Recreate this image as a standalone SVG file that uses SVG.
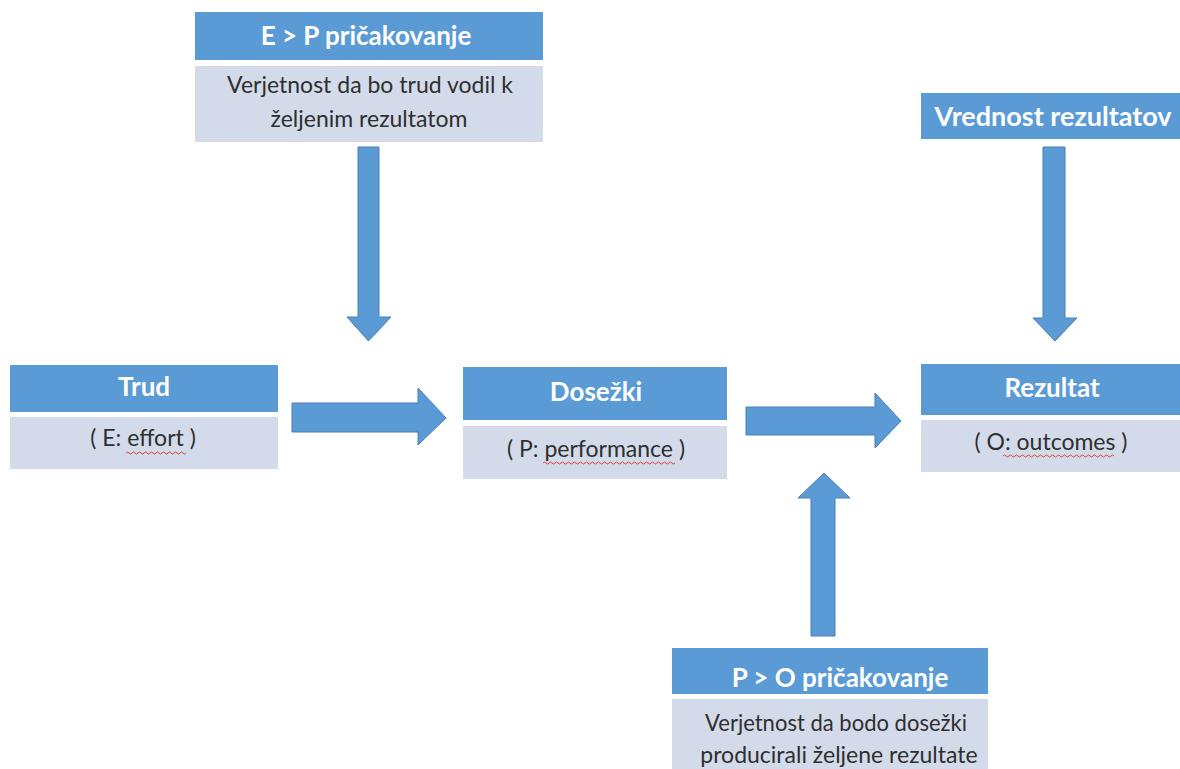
<svg xmlns="http://www.w3.org/2000/svg" width="1180" height="769" viewBox="0 0 1180 769">
  <style>
    .hd { fill: #5b9bd5; }
    .bd { fill: #d3dbea; }
    .ht { font-family: Lato, "Open Sans", sans-serif; font-weight: bold; font-size: 26px; fill: #ffffff; text-anchor: middle; }
    .bt { font-family: Lato, "Open Sans", sans-serif; font-size: 23px; fill: #2f2f2f; text-anchor: middle; }
    .arrow { fill: #5b9bd5; stroke: #4a7fb5; stroke-width: 1; }
    .spell { fill: none; stroke: #e0423a; stroke-width: 1; }
  </style>
  <rect width="1180" height="769" fill="#ffffff"/>

  <!-- connectors: block arrows -->
  <g id="connectors">
    <!-- E>P expectancy down into the effort→performance link -->
    <polygon class="arrow" points="358,147 379,147 379,317 391,317 368.5,341 347,317 358,317"/>
    <!-- effort to performance -->
    <polygon class="arrow" points="292,403 418,403 418,388 446,418 418,445 418,432 292,432"/>
    <!-- performance to outcomes -->
    <polygon class="arrow" points="746,407 875,407 875,393 901,421 875,448 875,435 746,435"/>
    <!-- P>O expectancy up -->
    <polygon class="arrow" points="811,636 835,636 835,498 850,498 824,473 798,498 811,498"/>
    <!-- value of outcomes down -->
    <polygon class="arrow" points="1043,147 1065,147 1065,318 1077,318 1055,341 1033,318 1043,318"/>
  </g>

  <g id="node-ep">
    <rect class="hd" x="195" y="12" width="348" height="48"/>
    <text class="ht" x="366" y="45">E &gt; P pričakovanje</text>
    <rect class="bd" x="195" y="66" width="348" height="76"/>
    <text class="bt" x="370" y="93">Verjetnost da bo trud vodil k</text>
    <text class="bt" x="369" y="127">željenim rezultatom</text>
  </g>

  <g id="node-trud">
    <rect class="hd" x="10" y="365" width="268" height="47"/>
    <text class="ht" x="144" y="396">Trud</text>
    <rect class="bd" x="10" y="417" width="268" height="52"/>
    <text class="bt" x="143" y="446">( E: effort )</text>
    <path class="spell" d="M126,453 q1.5,-2 3,0 t3,0 t3,0 t3,0 t3,0 t3,0 t3,0 t3,0 t3,0 t3,0 t3,0 t3,0 t3,0 t3,0 t3,0 t3,0 t3,0 t3,0 t3,0 t3,0"/>
  </g>

  <g id="node-dosezki">
    <rect class="hd" x="463" y="367" width="264" height="53"/>
    <text class="ht" x="596" y="401">Dosežki</text>
    <rect class="bd" x="463" y="426" width="264" height="53"/>
    <text class="bt" x="596" y="457">( P: performance )</text>
    <path class="spell" d="M543,463 q1.5,-2 3,0 t3,0 t3,0 t3,0 t3,0 t3,0 t3,0 t3,0 t3,0 t3,0 t3,0 t3,0 t3,0 t3,0 t3,0 t3,0 t3,0 t3,0 t3,0 t3,0 t3,0 t3,0 t3,0 t3,0 t3,0 t3,0 t3,0 t3,0 t3,0 t3,0 t3,0 t3,0 t3,0 t3,0 t3,0 t3,0 t3,0 t3,0 t3,0 t3,0 t3,0 t3,0 t3,0 t3,0"/>
  </g>

  <g id="node-vrednost">
    <rect class="hd" x="921" y="93" width="259" height="46"/>
    <text class="ht" x="1053" y="126" style="font-size:27px">Vrednost rezultatov</text>
  </g>

  <g id="node-rezultat">
    <rect class="hd" x="921" y="364" width="259" height="51"/>
    <text class="ht" x="1052" y="397">Rezultat</text>
    <rect class="bd" x="921" y="420" width="259" height="52"/>
    <text class="bt" x="1051" y="450">( O: outcomes )</text>
    <path class="spell" d="M1003,456 q1.5,-2 3,0 t3,0 t3,0 t3,0 t3,0 t3,0 t3,0 t3,0 t3,0 t3,0 t3,0 t3,0 t3,0 t3,0 t3,0 t3,0 t3,0 t3,0 t3,0 t3,0 t3,0 t3,0 t3,0 t3,0 t3,0 t3,0 t3,0 t3,0 t3,0 t3,0 t3,0 t3,0 t3,0 t3,0 t3,0 t3,0 t3,0"/>
  </g>

  <g id="node-po">
    <rect class="hd" x="672" y="648" width="316" height="46"/>
    <text class="ht" x="840" y="687">P &gt; O pričakovanje</text>
    <rect class="bd" x="672" y="699" width="316" height="70"/>
    <text class="bt" x="836" y="731" textLength="262" lengthAdjust="spacingAndGlyphs">Verjetnost da bodo dosežki</text>
    <text class="bt" x="839" y="763">producirali željene rezultate</text>
  </g>
</svg>
